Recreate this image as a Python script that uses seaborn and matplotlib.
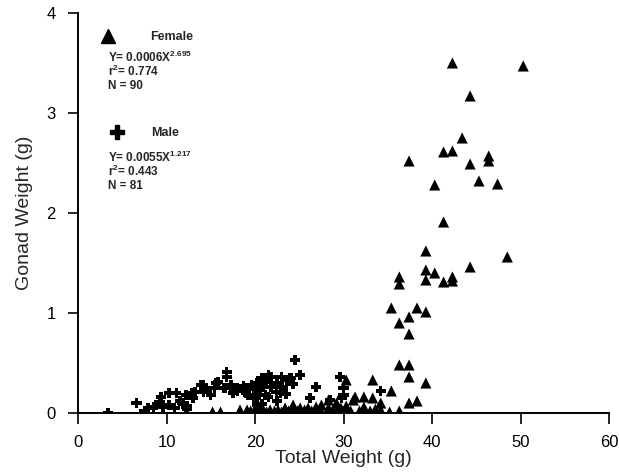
import numpy as np
import pandas as pd
import seaborn as sns
import matplotlib
matplotlib.use("Agg")
import matplotlib.pyplot as plt
from matplotlib.lines import Line2D

# ---------------- data ----------------
female_x = [42.3, 50.3, 44.3, 43.4, 41.3, 42.3, 46.4, 46.4, 44.3, 37.4, 45.3, 47.4, 40.3,
            41.3, 39.3, 48.5, 44.3, 39.3, 40.3, 39.3, 41.3, 42.3, 42.3, 36.3, 36.3, 35.4,
            38.3, 37.4, 39.3, 36.3, 37.4, 36.3, 37.4, 37.4, 39.3, 33.3, 35.4, 33.3, 34.2,
            37.4, 38.3, 36.3,
            30.3, 31.3, 32.3, 32.3, 32.3, 30.3, 28.3, 28.3, 21.7, 22.6, 23.4, 24.3, 25.1,
            26.0, 26.9, 27.5, 29.2, 31.1, 30.4, 15.2, 16.1, 18.3, 19.1, 20.0, 20.4, 21.0,
            24.3, 27.3, 29.3, 34.2, 35.2, 33.0, 31.8, 26.4, 25.2, 23.0, 20.5, 19.5, 21.3,
            22.2, 28.8, 27.0, 25.6, 24.8, 33.6, 30.8, 29.7, 23.8]
female_y = [3.50, 3.47, 3.17, 2.75, 2.61, 2.62, 2.57, 2.52, 2.49, 2.52, 2.32, 2.29, 2.28,
            1.91, 1.62, 1.56, 1.46, 1.43, 1.40, 1.33, 1.31, 1.36, 1.32, 1.36, 1.29, 1.05,
            1.05, 0.96, 1.01, 0.90, 0.79, 0.48, 0.48, 0.36, 0.30, 0.33, 0.22, 0.15, 0.10,
            0.10, 0.12, 0.02,
            0.33, 0.16, 0.16, 0.06, 0.03, 0.07, 0.13, 0.05, 0.03, 0.03, 0.05, 0.03, 0.05,
            0.05, 0.06, 0.08, 0.10, 0.13, 0.03, 0.01, 0.01, 0.03, 0.03, 0.04, 0.05, 0.02,
            0.08, 0.04, 0.03, 0.03, 0.01, 0.02, 0.02, 0.02, 0.02, 0.01, 0.01, 0.02, 0.01,
            0.02, 0.03, 0.02, 0.03, 0.02, 0.04, 0.02, 0.05, 0.02]

male_x = [3.4, 6.6, 7.5, 7.9, 8.5, 8.9, 9.2, 9.4, 9.6, 10.3, 10.3, 10.9, 11.1, 11.5, 12.2,
          12.3, 12.3, 12.8, 13.2, 13.9, 14.2, 14.5, 15.4, 15.6, 15.8, 16.5, 16.8, 16.8,
          17.3, 17.3, 18.0, 18.0, 18.7, 18.9, 19.4, 19.6, 19.2, 19.9, 20.2, 20.2, 20.2,
          20.4, 20.5, 20.7, 20.8, 20.9, 21.2, 21.3, 21.5, 21.5, 21.8, 21.8, 22.4, 22.5,
          22.5, 22.9, 23.0, 23.1, 23.5, 23.6, 23.9, 24.1, 24.3, 24.5, 25.1, 26.2, 26.9,
          28.5, 29.6, 30.0, 30.0, 29.8, 34.2, 12.2, 14.1, 16.6, 19.0, 17.5, 11.8, 13.0,
          15.0]
male_y = [0.00, 0.10, 0.02, 0.05, 0.06, 0.08, 0.11, 0.16, 0.06, 0.08, 0.20, 0.05, 0.20,
          0.12, 0.18, 0.07, 0.04, 0.20, 0.21, 0.28, 0.21, 0.25, 0.25, 0.30, 0.31, 0.25,
          0.41, 0.36, 0.28, 0.25, 0.25, 0.22, 0.27, 0.25, 0.24, 0.28, 0.18, 0.15, 0.30,
          0.22, 0.08, 0.28, 0.18, 0.35, 0.09, 0.26, 0.18, 0.31, 0.38, 0.16, 0.36, 0.26,
          0.21, 0.30, 0.12, 0.20, 0.36, 0.26, 0.19, 0.33, 0.35, 0.35, 0.29, 0.53, 0.38,
          0.15, 0.26, 0.13, 0.36, 0.25, 0.18, 0.15, 0.22, 0.06, 0.28, 0.25, 0.20, 0.20,
          0.10, 0.15, 0.18]

x_ticks = [0, 10, 20, 30, 40, 50, 60]
y_ticks = [0, 1, 2, 3, 4]

female_eq = ["Y= 0.0006X$^{\\mathbf{2.695}}$", "r$^{\\mathbf{2}}$= 0.774", "N = 90"]
male_eq = ["Y= 0.0055X$^{\\mathbf{1.217}}$", "r$^{\\mathbf{2}}$= 0.443", "N = 81"]

df = pd.concat([
    pd.DataFrame({"Total Weight": female_x, "Gonad Weight": female_y, "Sex": "Female"}),
    pd.DataFrame({"Total Weight": male_x, "Gonad Weight": male_y, "Sex": "Male"}),
], ignore_index=True)

# ---------------- style ----------------
sns.set_style("ticks")
plt.rcParams["font.family"] = ["Liberation Sans", "DejaVu Sans"]
plt.rcParams["mathtext.fontset"] = "custom"
plt.rcParams["mathtext.rm"] = "Liberation Sans"
plt.rcParams["mathtext.bf"] = "Liberation Sans:bold"
plt.rcParams["mathtext.it"] = "Liberation Sans:italic"

fig = plt.figure(figsize=(6.19, 4.72), dpi=100)
ax = fig.add_axes([0.126, 0.125, 0.858, 0.8475])

sns.scatterplot(data=df[df.Sex == "Male"], x="Total Weight", y="Gonad Weight",
                marker="P", color="black", s=55, edgecolor="none", linewidth=0,
                ax=ax, legend=False, zorder=3)
sns.scatterplot(data=df[df.Sex == "Female"], x="Total Weight", y="Gonad Weight",
                marker="^", color="black", s=64, edgecolor="none", linewidth=0,
                ax=ax, legend=False, zorder=4)

ax.set_xlim(0, 60)
ax.set_ylim(0, 4)
ax.set_xticks(x_ticks)
ax.set_yticks(y_ticks)
ax.tick_params(axis="x", direction="out", length=8, width=1.2, labelsize=12,
               colors="black", pad=8)
ax.tick_params(axis="y", direction="out", length=7, width=1.2, labelsize=12,
               colors="black", pad=9)
for s in ["top", "right"]:
    ax.spines[s].set_visible(False)
for s in ["left", "bottom"]:
    ax.spines[s].set_linewidth(1.4)
    ax.spines[s].set_color("black")
ax.set_xlabel("Total Weight (g)", fontsize=14, labelpad=0)
ax.set_ylabel("Gonad Weight (g)", fontsize=14, labelpad=10)

# ---------------- legend ----------------
fprop = {"weight": "bold", "size": 9}
leg1 = ax.legend(handles=[Line2D([], [], marker="^", ls="", color="black", markersize=10)],
                 labels=["Female"], loc="center left", bbox_to_anchor=(0.0386, 0.94),
                 frameon=False, prop=fprop, handletextpad=2.6, borderpad=0,
                 borderaxespad=0, handlelength=1.5)
ax.add_artist(leg1)
leg2 = ax.legend(handles=[Line2D([], [], marker="P", ls="", color="black", markersize=10)],
                 labels=["Male"], loc="center left", bbox_to_anchor=(0.056, 0.70),
                 frameon=False, prop=fprop, handletextpad=2.0, borderpad=0,
                 borderaxespad=0, handlelength=1.5)

for i, t in enumerate(female_eq):
    ax.text(0.056, 0.89 - i * 0.036, t, transform=ax.transAxes, fontsize=8.5,
            fontweight="bold", va="center", ha="left")
for i, t in enumerate(male_eq):
    ax.text(0.056, 0.64 - i * 0.036, t, transform=ax.transAxes, fontsize=8.5,
            fontweight="bold", va="center", ha="left")

fig.savefig("out.png", dpi=100)
